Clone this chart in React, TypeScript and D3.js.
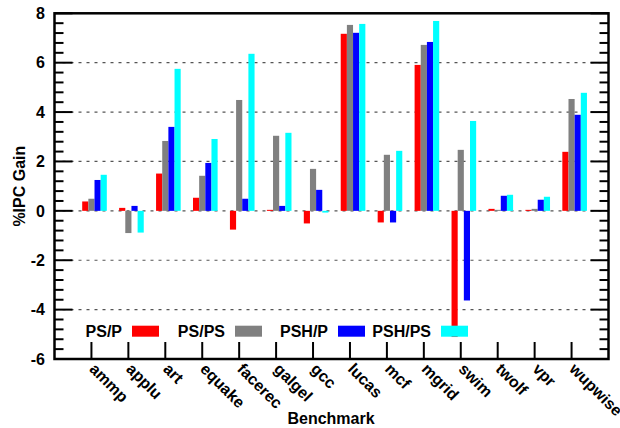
import React, { useEffect, useRef } from "react";
import * as d3 from "d3";

const benchmarks = ["ammp", "applu", "art", "equake", "facerec", "galgel", "gcc", "lucas", "mcf", "mgrid", "swim", "twolf", "vpr", "wupwise"];
const seriesNames = ["PS/P", "PS/PS", "PSH/P", "PSH/PS"];
const psP = [0.38, 0.12, 1.51, 0.53, -0.76, 0.04, -0.51, 7.17, -0.47, 5.91, -5.11, 0.08, 0.04, 2.39];
const psPS = [0.49, -0.9, 2.83, 1.42, 4.49, 3.04, 1.7, 7.53, 2.27, 6.72, 2.47, 0.04, 0.08, 4.53];
const pshP = [1.25, 0.2, 3.4, 1.94, 0.49, 0.2, 0.85, 7.21, -0.47, 6.84, -3.63, 0.61, 0.45, 3.89];
const pshPS = [1.46, -0.88, 5.75, 2.91, 6.36, 3.16, -0.07, 7.57, 2.43, 7.69, 3.64, 0.65, 0.57, 4.78];
const yMajorTicks = [-6, -4, -2, 0, 2, 4, 6, 8];
const gridValues = [-4, -2, 0, 2, 4, 6];

const colors = ["#ff0000", "#808080", "#0000ff", "#00ffff"];
const FONT = "'Liberation Sans', Arial, sans-serif";

export default function App() {
  const ref = useRef<SVGSVGElement>(null);

  useEffect(() => {
    const svg = d3.select(ref.current);
    svg.selectAll("*").remove();

    const left = 54.5, right = 608.5, top = 13.3, bottom = 359;
    const x = d3.scaleLinear().domain([-1, 14]).range([left, right]);
    const y = d3.scaleLinear().domain([-6, 8]).range([bottom, top]);
    const series = [psP, psPS, pshP, pshPS];
    const boxW = 1 / 6;

    // grid
    svg.append("g")
      .selectAll("line")
      .data(gridValues)
      .join("line")
      .attr("x1", left).attr("x2", right)
      .attr("y1", (d) => y(d)).attr("y2", (d) => y(d))
      .attr("stroke", "#555")
      .attr("stroke-width", 1.2)
      .attr("stroke-dasharray", "3,5");

    // bars
    series.forEach((vals, j) => {
      const off = (j - 1) / 6;
      svg.append("g")
        .selectAll("rect")
        .data(vals)
        .join("rect")
        .attr("x", (d, i) => x(i + off - boxW / 2))
        .attr("width", (d, i) => x(i + off + boxW / 2) - x(i + off - boxW / 2))
        .attr("y", (d) => y(Math.max(0, d)))
        .attr("height", (d) => Math.abs(y(d) - y(0)))
        .attr("fill", colors[j]);
    });

    // y ticks (left and right, inward)
    const minor = d3.range(-6, 8.001, 0.4).filter((v) => Math.abs(v / 2 - Math.round(v / 2)) > 0.01);
    const tg = svg.append("g").attr("stroke", "#000").attr("stroke-width", 2);
    yMajorTicks.forEach((v) => {
      tg.append("line").attr("x1", left).attr("x2", left + 18).attr("y1", y(v)).attr("y2", y(v));
      tg.append("line").attr("x1", right).attr("x2", right - 18).attr("y1", y(v)).attr("y2", y(v));
    });
    minor.forEach((v) => {
      tg.append("line").attr("x1", left).attr("x2", left + 9).attr("y1", y(v)).attr("y2", y(v));
      tg.append("line").attr("x1", right).attr("x2", right - 9).attr("y1", y(v)).attr("y2", y(v));
    });
    benchmarks.forEach((b, i) => {
      tg.append("line").attr("x1", x(i)).attr("x2", x(i)).attr("y1", bottom).attr("y2", bottom - 17);
    });

    // frame
    svg.append("rect")
      .attr("x", left).attr("y", top)
      .attr("width", right - left).attr("height", bottom - top)
      .attr("fill", "none").attr("stroke", "#000").attr("stroke-width", 2.5);

    const txt = svg.append("g").attr("font-family", FONT).attr("font-weight", "bold").attr("font-size", 16).attr("fill", "#000");

    // y tick labels
    txt.selectAll("text.yl")
      .data(yMajorTicks)
      .join("text")
      .attr("class", "yl")
      .attr("x", 45)
      .attr("y", (d) => y(d))
      .attr("dy", "0.36em")
      .attr("text-anchor", "end")
      .text((d) => d);

    // x labels rotated
    txt.selectAll("text.xl")
      .data(benchmarks)
      .join("text")
      .attr("class", "xl")
      .attr("transform", (d, i) => `translate(${x(i) - 3},${370}) rotate(45)`)
      .text((d) => d);

    // axis titles
    txt.append("text")
      .attr("x", 331).attr("y", 424)
      .attr("text-anchor", "middle")
      .text("Benchmark");
    txt.append("text")
      .attr("transform", `translate(25,${(top + bottom) / 2}) rotate(-90)`)
      .attr("text-anchor", "middle")
      .text("%IPC Gain");

    // legend
    seriesNames.forEach((name, j) => {
      const sx = 132 + 103 * j;
      svg.append("rect")
        .attr("x", sx).attr("y", 325.7)
        .attr("width", 27).attr("height", 11)
        .attr("fill", colors[j]);
      txt.append("text")
        .attr("x", sx - 10).attr("y", 337)
        .attr("text-anchor", "end")
        .text(name);
    });
  }, []);

  return (
    <svg
      ref={ref}
      width={620}
      height={428}
      style={{ position: "absolute", left: 0, top: 0, background: "#fff" }}
    />
  );
}
